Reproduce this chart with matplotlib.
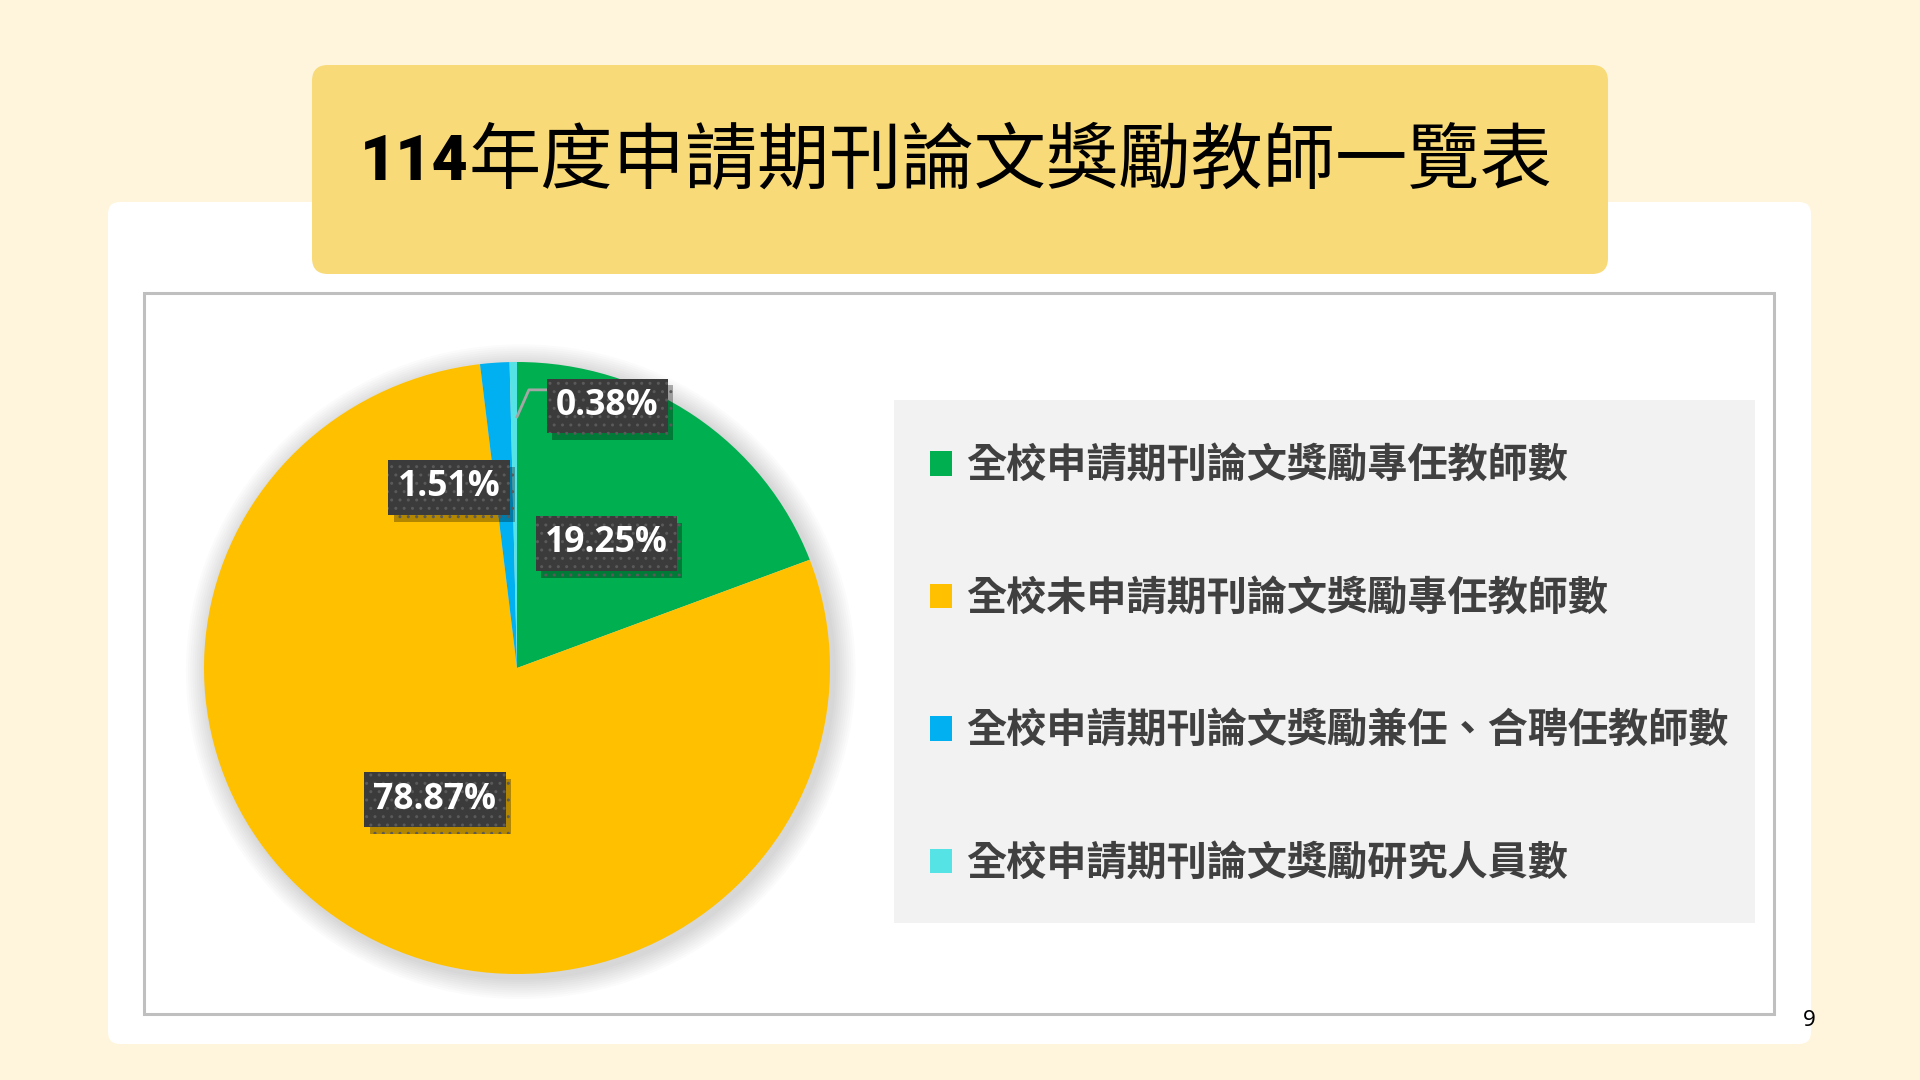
import matplotlib
matplotlib.use('Agg')
import matplotlib.pyplot as plt
from matplotlib.patches import FancyBboxPatch, Rectangle, Ellipse
import matplotlib.patheffects as pe

# datos (numero de personas)
categorias = ['全校申請期刊論文獎勵專任教師數',
              '全校未申請期刊論文獎勵專任教師數',
              '全校申請期刊論文獎勵兼任、合聘任教師數',
              '全校申請期刊論文獎勵研究人員數']
valores = [51, 209, 4, 1]
colores = ['#00B050', '#FFC000', '#00B0F0', '#55E3E6']
# posicion de las etiquetas (coordenadas del eje del pie, radio = 1)
pos_etiquetas = [(0.285, 0.407), (-0.262, -0.430), (-0.217, 0.590), (0.288, 0.857)]

titulo_num = '114'
titulo = '年度申請期刊論文獎勵教師一覽表'
pagina = '9'

CJK = ['Noto Sans CJK TC', 'DejaVu Sans']
plt.rcParams['font.family'] = CJK

fig = plt.figure(figsize=(19.2, 10.8), dpi=100)
fig.patch.set_facecolor('#FFF5DC')

# eje de fondo en pixeles
bg = fig.add_axes([0, 0, 1, 1], zorder=0)
bg.set_xlim(0, 1920)
bg.set_ylim(1080, 0)
bg.axis('off')

bg.add_patch(FancyBboxPatch((108, 202), 1703, 842, boxstyle='round,pad=0,rounding_size=12',
                            fc='white', ec='none'))
bg.add_patch(Rectangle((144, 293), 1630, 721, fc='none', ec='#BFBFBF', lw=2.2))
bg.add_patch(FancyBboxPatch((312, 65), 1296, 209, boxstyle='round,pad=0,rounding_size=16',
                            fc='#F8DA78', ec='none'))
bg.add_patch(Rectangle((894, 400), 861, 523, fc='#F2F2F2', ec='none'))

bg.text(469, 163, titulo_num, ha='right', va='center', fontsize=45,
        family=['Roboto', 'DejaVu Sans'], fontweight='black', color='black')
bg.text(469, 162, titulo, ha='left', va='center', fontsize=52,
        fontweight='light', color='black')
bg.text(1809, 1020, pagina, ha='center', va='center', fontsize=16,
        family=['Noto Sans', 'DejaVu Sans'], color='black')

# pie (en la diapositiva original esta un poco achatado)
rx, ry = 313, 306
cx, cy = 517, 668
m = 1.1
ax = fig.add_axes([(cx - m * rx) / 1920, 1 - (cy + m * ry) / 1080,
                   2 * m * rx / 1920, 2 * m * ry / 1080], zorder=1)

# sombra suave
for k in range(10):
    d = 0.014 * (k + 1)
    ax.add_patch(Ellipse((0.012, -0.012), 2 + d, 2 + d, fc='black', ec='none',
                         alpha=0.016, zorder=0))

wedges, _ = ax.pie(valores, colors=colores, startangle=90, counterclock=False,
                   radius=1.0, wedgeprops=dict(linewidth=0))
ax.set_aspect('auto')
ax.set_xlim(-m, m)
ax.set_ylim(-m, m)
ax.axis('off')

total = sum(valores)
for v, (x, y) in zip(valores, pos_etiquetas):
    txt = f'{100 * v / total:.2f}%'
    t = ax.text(x, y, txt, ha='center', va='center', fontsize=25.5,
                family=['Open Sans', 'DejaVu Sans'], fontweight='bold', color='white', zorder=5,
                bbox=dict(boxstyle='square,pad=0.26', fc='#3B3B3B', ec='#5A5A5A', lw=0, hatch='..'))
    t.get_bbox_patch().set_path_effects([
        pe.SimplePatchShadow(offset=(4, -5), shadow_rgbFace='black', alpha=0.3),
        pe.Normal()])

# linea guia del 0.38%
ax.plot([0.0, 0.038, 0.096], [0.821, 0.909, 0.909], color='#A6A6A6', lw=2, zorder=3)

leg = fig.legend(wedges, categorias, loc='center left',
                 bbox_to_anchor=(910 / 1920, 1 - 665 / 1080), frameon=False,
                 fontsize=28.9, handlelength=0.55, handleheight=0.55, handletextpad=0.35,
                 labelspacing=2.28, borderpad=0)
for t in leg.get_texts():
    t.set_color('#404040')
    t.set_fontweight('bold')

fig.savefig('out.png', dpi=100, facecolor=fig.get_facecolor())
